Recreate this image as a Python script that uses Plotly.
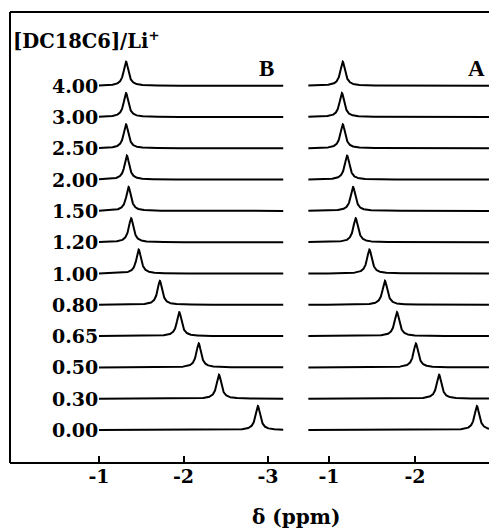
import numpy as np
import plotly.graph_objects as go

# ---- data ----
ratios = ["4.00", "3.00", "2.50", "2.00", "1.50", "1.20", "1.00", "0.80", "0.65", "0.50", "0.30", "0.00"]
shift_B = [-1.32, -1.32, -1.32, -1.33, -1.35, -1.38, -1.47, -1.72, -1.95, -2.18, -2.42, -2.88]
shift_A = [-1.16, -1.15, -1.16, -1.21, -1.28, -1.31, -1.47, -1.65, -1.79, -2.01, -2.28, -2.72]
tick_vals_B = [-1, -2, -3]
tick_vals_A = [-1, -2]

# ---- styling / layout constants ----
W, H = 489, 529
ML, MR, MT, MB = 10, 0, 12, 66
plot_w = W - ML - MR
plot_h = H - MT - MB
split_px = 290                       # pixel where panel B ends / A begins
split = (split_px - ML) / plot_w
rangeB = [-1 + (99 - ML) / 84.5, -1 - (split_px - 99) / 84.5]
rangeA = [-1 + (329 - split_px) / 86.0, -1 - (W - 329) / 86.0]
spanB = [-1.0, -3.18]
spanA = [-0.76, -2.86]
hw = 0.034          # half width (ppm) of line
peak_h = 24.0
base0 = 33.0        # baseline of bottom trace (y units = px)
step = 31.3

def lorentz(x, x0):
    return peak_h * hw**2 / ((x - x0)**2 + hw**2)

fig = go.Figure()
n = len(ratios)
for i, r in enumerate(ratios):
    base = base0 + (n - 1 - i) * step
    xb = np.linspace(spanB[0], spanB[1], 1500)
    fig.add_trace(go.Scatter(x=xb, y=base + lorentz(xb, shift_B[i]), mode="lines",
                             line=dict(color="black", width=2), xaxis="x", yaxis="y",
                             showlegend=False, hoverinfo="skip"))
    xa = np.linspace(spanA[0], spanA[1], 1500)
    fig.add_trace(go.Scatter(x=xa, y=base + lorentz(xa, shift_A[i]), mode="lines",
                             line=dict(color="black", width=2), xaxis="x2", yaxis="y",
                             showlegend=False, hoverinfo="skip"))
    fig.add_annotation(x=-1.01, y=base, xref="x", yref="y", text=r, showarrow=False,
                       xanchor="right", yanchor="middle",
                       font=dict(family="DejaVu Serif", size=19, color="black", weight="bold"))

tickfont = dict(family="DejaVu Serif", size=19, color="black", weight="bold")
common = dict(ticks="inside", ticklen=7, tickwidth=1.5, tickcolor="black", showline=False,
              showgrid=False, zeroline=False, tickfont=tickfont)
fig.update_layout(
    width=W, height=H,
    margin=dict(l=ML, r=MR, t=MT, b=MB),
    paper_bgcolor="white", plot_bgcolor="white",
    xaxis=dict(domain=[0, split], range=rangeB, tickvals=tick_vals_B,
               ticktext=[str(v) for v in tick_vals_B], anchor="y", **common),
    xaxis2=dict(domain=[split, 1], range=rangeA, tickvals=tick_vals_A,
                ticktext=[str(v) for v in tick_vals_A], anchor="y", **common),
    yaxis=dict(range=[0, plot_h], visible=False, fixedrange=True),
)

# frame (top, left, bottom)
for (x0, y0, x1, y1) in [(0, 1, 1, 1), (0, 0, 0, 1), (0, 0, 1, 0)]:
    fig.add_shape(type="line", xref="paper", yref="paper", x0=x0, y0=y0, x1=x1, y1=y1,
                  line=dict(color="black", width=2))

fig.add_annotation(x=1 / plot_w, y=1 - (40 - MT) / plot_h, xref="paper", yref="paper",
                   text="[DC18C6]/Li<sup>+</sup>", showarrow=False, xanchor="left", yanchor="middle",
                   font=dict(family="DejaVu Serif", size=19.5, color="black", weight="bold"))
fig.add_annotation(x=(266 - ML) / plot_w, y=1 - (69 - MT) / plot_h, xref="paper", yref="paper",
                   text="B", showarrow=False, xanchor="center", yanchor="middle",
                   font=dict(family="Liberation Serif", size=23, color="black", weight="bold"))
fig.add_annotation(x=(476 - ML) / plot_w, y=1 - (68 - MT) / plot_h, xref="paper", yref="paper",
                   text="A", showarrow=False, xanchor="center", yanchor="middle",
                   font=dict(family="Liberation Serif", size=23, color="black", weight="bold"))
fig.add_annotation(x=(296 - ML) / plot_w, y=-(517 - MT - plot_h) / plot_h, xref="paper", yref="paper",
                   text="δ (ppm)", showarrow=False, xanchor="center", yanchor="middle",
                   font=dict(family="DejaVu Serif", size=20, color="black", weight="bold"))

fig.write_html("out.html")
